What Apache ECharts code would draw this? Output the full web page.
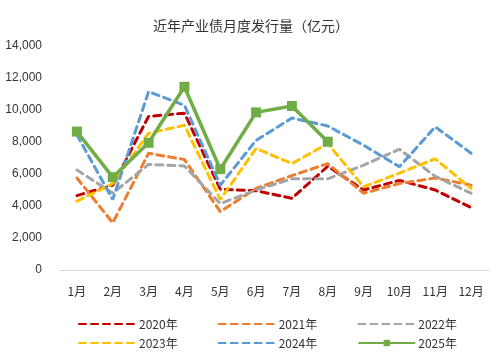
<!DOCTYPE html>
<html>
<head>
<meta charset="utf-8" />
<title>近年产业债月度发行量</title>
<script src="https://cdn.jsdelivr.net/npm/echarts@6/dist/echarts.min.js"></script>
<style>
	html, body { margin: 0; padding: 0; background: #fff; }
	#main { width: 502px; height: 354px; }
</style>
</head>
<body>
<div id="main"></div>
<script type="text/javascript">
	// 月份
	var months = ['1月','2月','3月','4月','5月','6月','7月','8月','9月','10月','11月','12月'];
	// 各年月度发行量（亿元）
	var y2020 = [4650, 5300, 9600, 9800, 5050, 4950, 4480, 6480, 5000, 5600, 5000, 3900];
	var y2021 = [5750, 2950, 7300, 6900, 3650, 5100, 5900, 6650, 4800, 5400, 5750, 5300];
	var y2022 = [6250, 4800, 6600, 6500, 4150, 5000, 5700, 5700, 6550, 7550, 5850, 4800];
	var y2023 = [4300, 5400, 8550, 9050, 4400, 7600, 6650, 7900, 5200, 6050, 6950, 5100];
	var y2024 = [8450, 4400, 11150, 10300, 5300, 8100, 9500, 9000, 7800, 6450, 8950, 7300];
	var y2025 = [8650, 5800, 7950, 11450, 6300, 9850, 10250, 8020];
	var yTicks = [0, 2000, 4000, 6000, 8000, 10000, 12000, 14000];

	var cnFont = '"Noto Sans CJK SC", "Liberation Sans", sans-serif';

	function dashed(name, color, data){
		return {
			name: name,
			type: 'line',
			data: data,
			symbol: 'none',
			lineStyle: { color: color, width: 3, type: [7, 5], cap: 'round' },
			itemStyle: { color: color }
		};
	}
	// 虚线图例只显示线段，不显示圆点
	function lineOnly(name){
		return { name: name, itemStyle: { opacity: 0 } };
	}
	var legendText = { fontFamily: cnFont, fontSize: 12, color: '#333', padding: [0, 0, 0, -2] };

	var myChart = echarts.init(document.getElementById('main'));
	var option = {
		animation: false,
		title: {
			text: '近年产业债月度发行量（亿元）',
			left: 'center',
			top: 14,
			textStyle: { fontFamily: cnFont, fontSize: 14, fontWeight: 'normal', color: '#333' }
		},
		legend: [
			{
				data: [lineOnly('2020年'), lineOnly('2021年'), lineOnly('2022年')],
				left: 73, top: 313,
				itemWidth: 57, itemHeight: 8, itemGap: 40,
				textStyle: legendText
			},
			{
				data: [lineOnly('2023年'), lineOnly('2024年'), '2025年'],
				left: 73, top: 332,
				itemWidth: 57, itemHeight: 8, itemGap: 40,
				textStyle: legendText
			}
		],
		grid: { left: 59, right: 13, top: 46, bottom: 84, containLabel: false },
		xAxis: {
			type: 'category',
			data: months,
			boundaryGap: true,
			axisLine: { lineStyle: { color: '#d9d9d9', width: 1 } },
			axisTick: { show: false },
			axisLabel: { fontFamily: cnFont, fontSize: 12, color: '#333', margin: 15 }
		},
		yAxis: {
			type: 'value',
			min: yTicks[0],
			max: yTicks[yTicks.length - 1],
			interval: 2000,
			splitLine: { show: false },
			axisLine: { show: false },
			axisTick: { show: false },
			axisLabel: {
				fontFamily: '"Liberation Sans", Arial, sans-serif',
				fontSize: 12, color: '#333', margin: 17,
				formatter: function (v) { return v.toLocaleString('en-US'); }
			}
		},
		series: [
			dashed('2020年', '#c00000', y2020),
			dashed('2021年', '#ed7d31', y2021),
			dashed('2022年', '#a5a5a5', y2022),
			dashed('2023年', '#ffc000', y2023),
			dashed('2024年', '#5b9bd5', y2024),
			{
				name: '2025年',
				type: 'line',
				data: y2025,
				symbol: 'rect',
				symbolSize: 10,
				lineStyle: { color: '#70ad47', width: 3.5 },
				itemStyle: { color: '#70ad47' },
				z: 5
			}
		]
	};
	myChart.setOption(option);
</script>
</body>
</html>
